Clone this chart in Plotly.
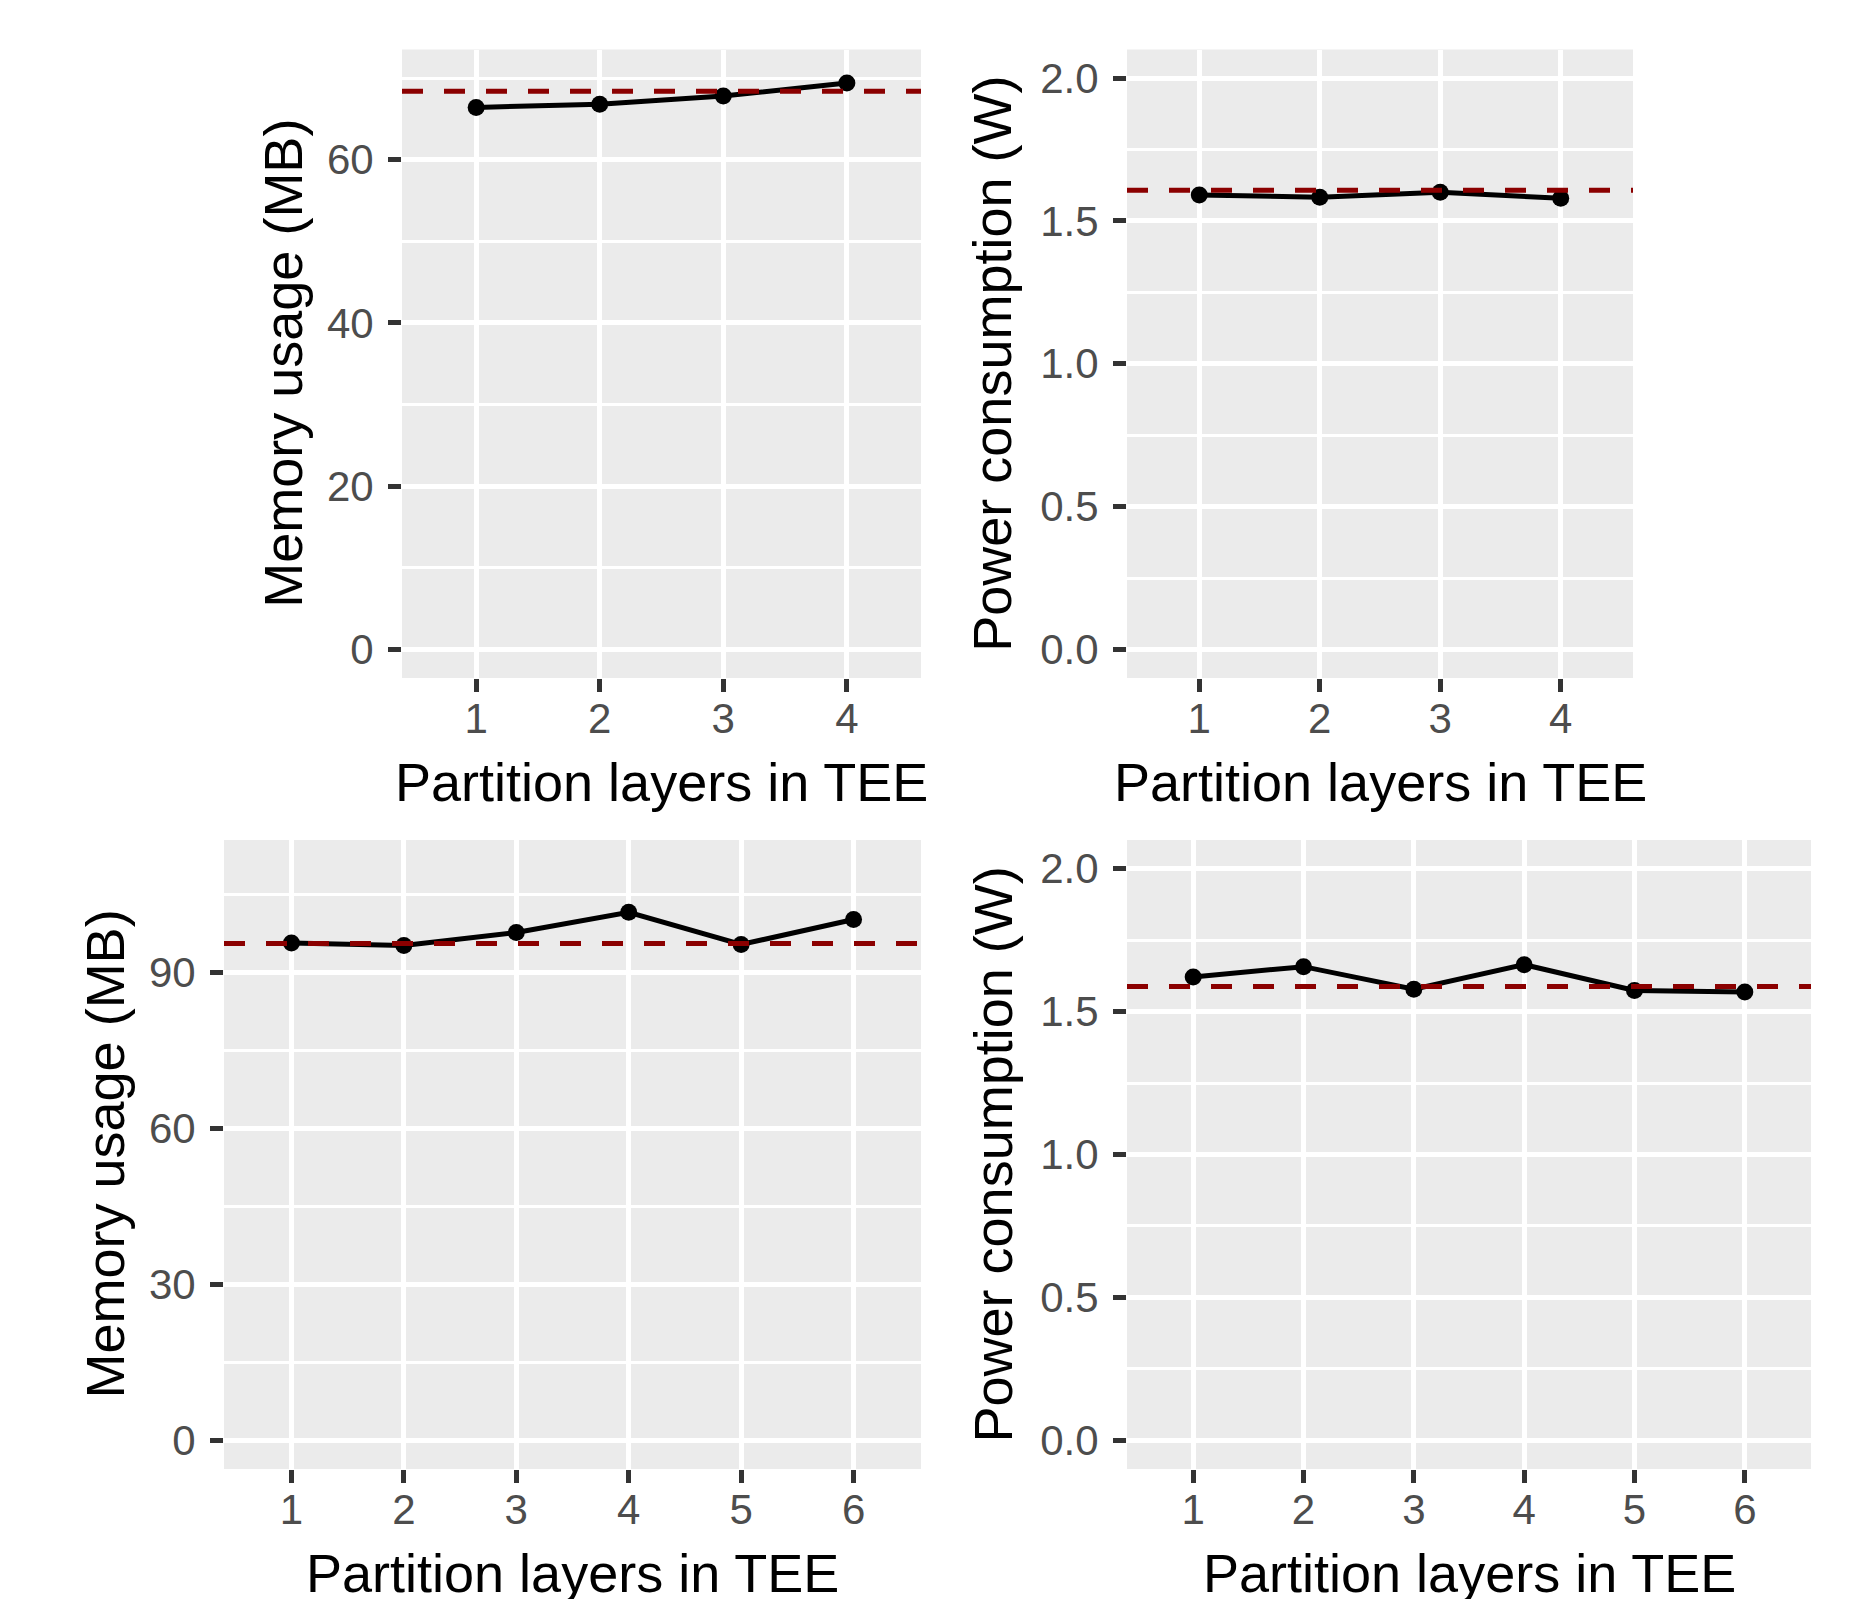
import plotly.graph_objects as go

# ---------------- data ----------------
layers_top = [1, 2, 3, 4]
memory_top = [66.4, 66.8, 67.8, 69.4]
memory_top_ref = 68.4
power_top = [1.591, 1.583, 1.600, 1.579]
power_top_ref = 1.607

layers_bottom = [1, 2, 3, 4, 5, 6]
memory_bottom = [95.7, 95.2, 97.7, 101.6, 95.4, 100.2]
memory_bottom_ref = 95.6
power_bottom = [1.621, 1.657, 1.578, 1.664, 1.574, 1.568]
power_bottom_ref = 1.588

memory_top_ticks = [0, 20, 40, 60]
memory_bottom_ticks = [0, 30, 60, 90]
power_ticks = [0.0, 0.5, 1.0, 1.5, 2.0]

x_title = "Partition layers in TEE"
memory_title = "Memory usage (MB)"
power_title = "Power consumption (W)"

# ---------------- layout constants ----------------
OFF = 8  # default page body margin
W, H = 1850 - OFF, 1599 - OFF
FONT = "Liberation Sans, Arial, Helvetica, sans-serif"
BG = "#EBEBEB"
TICK_COLOR = "#333333"
TICK_TEXT = "#4D4D4D"
REF_COLOR = "#8B0000"


def px_x(p):
    return (p - OFF) / W


def px_y(p):
    return 1 - (p - OFF) / H


panels = [
    dict(n="", x=layers_top, y=memory_top, ref=memory_top_ref,
         xr=[0.4, 4.6], yr=[-3.5, 73.5], yt=memory_top_ticks, fmt="d",
         minor=[10, 30, 50, 70],
         xd=[402, 921], yd=[49.5, 678], title=memory_title, tx=283),
    dict(n="2", x=layers_top, y=power_top, ref=power_top_ref,
         xr=[0.4, 4.6], yr=[-0.1, 2.1], yt=power_ticks, fmt=".1f",
         minor=[0.25, 0.75, 1.25, 1.75],
         xd=[1127, 1633], yd=[49.5, 678], title=power_title, tx=992),
    dict(n="3", x=layers_bottom, y=memory_bottom, ref=memory_bottom_ref,
         xr=[0.4, 6.6], yr=[-5.5, 115.5], yt=memory_bottom_ticks, fmt="d",
         minor=[15, 45, 75, 105],
         xd=[224, 921], yd=[840, 1469], title=memory_title, tx=104),
    dict(n="4", x=layers_bottom, y=power_bottom, ref=power_bottom_ref,
         xr=[0.4, 6.6], yr=[-0.1, 2.1], yt=power_ticks, fmt=".1f",
         minor=[0.25, 0.75, 1.25, 1.75],
         xd=[1127, 1811], yd=[840, 1469], title=power_title, tx=992),
]

fig = go.Figure()
layout = dict(
    width=W, height=H,
    margin=dict(l=0, r=0, t=0, b=0),
    paper_bgcolor="white",
    plot_bgcolor=BG,
    showlegend=False,
    font=dict(family=FONT),
)
annotations = []
shapes = []

for p in panels:
    n = p["n"]
    xa = "x" + n
    ya = "y" + n
    fig.add_trace(go.Scatter(
        x=p["x"], y=p["y"], xaxis=xa, yaxis=ya, mode="lines+markers",
        line=dict(color="black", width=5),
        marker=dict(color="black", size=17),
        hoverinfo="skip",
    ))
    layout["xaxis" + n] = dict(
        domain=[px_x(p["xd"][0]), px_x(p["xd"][1])],
        anchor=ya, range=p["xr"], tickmode="array", tickvals=p["x"],
        ticks="outside", ticklen=13, tickwidth=4.5, tickcolor=TICK_COLOR,
        tickfont=dict(size=42, color=TICK_TEXT, family=FONT),
        showgrid=True, gridcolor="white", gridwidth=4.5,
        zeroline=False, showline=False, ticklabelstandoff=-9,
    )
    layout["yaxis" + n] = dict(
        domain=[px_y(p["yd"][1]), px_y(p["yd"][0])],
        anchor=xa, range=p["yr"], tickmode="array", tickvals=p["yt"],
        tickformat=p["fmt"],
        ticks="outside", ticklen=13, tickwidth=4.5, tickcolor=TICK_COLOR,
        tickfont=dict(size=42, color=TICK_TEXT, family=FONT),
        showgrid=True, gridcolor="white", gridwidth=4.5,
        minor=dict(tickvals=p["minor"], showgrid=True, gridcolor="white",
                   gridwidth=2.5, ticks=""),
        zeroline=False, showline=False, ticklabelstandoff=6,
    )
    shapes.append(dict(
        type="line", xref=xa + " domain", yref=ya, x0=0, x1=1,
        y0=p["ref"], y1=p["ref"], layer="above",
        line=dict(color=REF_COLOR, width=5, dash="21px,21px"),
    ))
    # axis titles
    cx = (p["xd"][0] + p["xd"][1]) / 2
    ty = 781.5 if p["yd"][0] < 500 else 1572.5
    annotations.append(dict(
        text=x_title, xref="paper", yref="paper", x=px_x(cx), y=px_y(ty),
        xanchor="center", yanchor="middle", showarrow=False,
        font=dict(size=54, color="black", family=FONT),
    ))
    cy = (p["yd"][0] + p["yd"][1]) / 2
    annotations.append(dict(
        text=p["title"], xref="paper", yref="paper", x=px_x(p["tx"]), y=px_y(cy),
        xanchor="center", yanchor="middle", showarrow=False, textangle=-90,
        font=dict(size=54, color="black", family=FONT),
    ))

layout["annotations"] = annotations
layout["shapes"] = shapes
fig.update_layout(**layout)
fig.write_html("out.html")
